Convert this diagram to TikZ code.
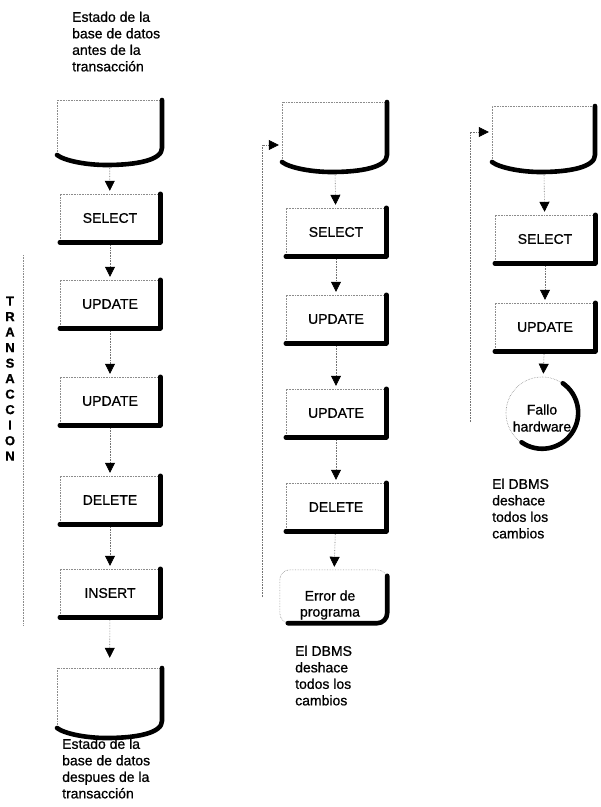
\documentclass[tikz,border=0pt]{standalone}
\usepackage{fontspec}
\setmainfont{Liberation Sans}[FakeBold=0.8]
\usetikzlibrary{arrows.meta,calc}
\tikzset{
  faint/.style={draw=black!45, densely dotted, line width=0.6pt},
  heavy/.style={draw=black, line width=4.6pt, line cap=round, line join=round},
  conn/.style={draw=black!55, densely dotted, line width=0.6pt,
    -{Triangle[length=10pt,width=10pt,color=black]}, shorten >=3pt, shorten <=3pt},
  lbl/.style={font=\fontsize{14}{16.5}\selectfont, inner sep=0pt},
  blk/.style={lbl, align=left, anchor=north west},
  opnode/.style={lbl, minimum width=100pt, minimum height=48pt},
}
\newcommand{\opbox}[4]{%
  \node[opnode] (#1) at (#2,#3) {#4};
  \draw[faint] (#1.south west) -- (#1.north west) -- (#1.north east);
  \draw[heavy] (#1.north east) -- (#1.south east) -- (#1.south west);
}
\newcommand{\dbshape}[5]{%
  \pgfmathsetmacro{\dbX}{(#2+#3)/2}%
  \pgfmathsetmacro{\dbY}{(#4+#5)/2}%
  \pgfmathsetmacro{\dbW}{#3-#2}%
  \pgfmathsetmacro{\dbH}{#5-#4}%
  \node[inner sep=0pt, minimum width=\dbW pt, minimum height=\dbH pt] (#1) at (\dbX,\dbY) {};
  \draw[faint] (#2,#5-10) -- (#2,#4) -- (#3,#4);
  \draw[heavy] (#3,#4) -- (#3,#5-17) .. controls (#3,#5-5) and (#3-25,#5) .. (\dbX-3,#5)
     .. controls (#2+30,#5) and (#2+8,#5-4) .. (#2,#5-10);
}
\begin{document}
\begin{tikzpicture}[x=1pt,y=-1pt]
\useasboundingbox (0,0) rectangle (601,807);

% ---------- column 1 ----------
\node[blk] (topt) at (72,11.5) {Estado de la\\base de datos\\antes de la\\transacción};
\dbshape{db1}{57}{162}{100}{165}
\opbox{s1}{110}{218}{SELECT}
\opbox{u1}{110}{304}{UPDATE}
\opbox{u2}{110}{401}{UPDATE}
\opbox{d1}{110}{500}{DELETE}
\opbox{i1}{110}{593}{INSERT}
\dbshape{db2}{57}{162}{668}{738}
\node[blk] (bott) at (62,738.5) {Estado de la\\base de datos\\despues de la\\transacción};

\draw[conn] (db1) -- (s1);
\draw[conn] (s1) -- (u1);
\draw[conn] (u1) -- (u2);
\draw[conn] (u2) -- (d1);
\draw[conn] (d1) -- (i1);
\draw[conn, shorten >=10pt] (i1) -- (db2);

\coordinate (tr1) at (23,255);
\coordinate (tr2) at (23,625);
\draw[faint] (tr1) -- (tr2);
\node[font=\bfseries\fontsize{13}{15.5}\selectfont, align=center, anchor=north, inner sep=0pt]
  (tlab) at (10,296.5) {T\\R\\A\\N\\S\\A\\C\\C\\I\\O\\N};

% ---------- column 2 ----------
\dbshape{dc1}{282}{387}{102}{172}
\opbox{s2}{336}{232}{SELECT}
\opbox{u3}{336}{319}{UPDATE}
\opbox{u4}{336}{413}{UPDATE}
\opbox{d2}{336}{507}{DELETE}
\node[inner sep=0pt, minimum width=107pt, minimum height=53pt] (err) at (333.5,596.5) {};
\draw[faint, rounded corners=10pt] (err.south west) rectangle (err.north east);
\draw[heavy, rounded corners=10pt] ([yshift=-6pt]err.north east) -- (err.south east) -- ([xshift=8pt]err.south west);
\node[lbl, align=center, font=\fontsize{14}{16}\selectfont] (errt) at (330,605) {Error de\\programa};
\node[blk] (c2t) at (295,645.5) {El DBMS\\deshace\\todos los\\cambios};

\draw[conn] (dc1) -- (s2);
\draw[conn] (s2) -- (u3);
\draw[conn] (u3) -- (u4);
\draw[conn] (u4) -- (d2);
\draw[conn] (d2) -- (err);

\coordinate (l2b) at (262,600);
\coordinate (l2t) at (262,145);
\draw[conn] (l2b) -- (l2t) -- (dc1.west |- l2t);

% ---------- column 3 ----------
\dbshape{dd1}{492}{595}{106}{172}
\opbox{s3}{545}{239}{SELECT}
\opbox{u5}{545}{327}{UPDATE}
\node[circle, inner sep=0pt, minimum size=72pt, faint] (fh) at (542,413) {};
\draw[heavy] (fh.55) arc[start angle=55, end angle=-125, radius=36pt];
\node[lbl, align=center, font=\fontsize{14}{17}\selectfont] (fht) at (542,418) {Fallo\\hardware};
\node[blk] (c3t) at (492,478.5) {El DBMS\\deshace\\todos los\\cambios};

\draw[conn] (dd1) -- (s3);
\draw[conn] (s3) -- (u5);
\draw[conn] (u5) -- (fh);

\coordinate (l3b) at (470,425);
\coordinate (l3t) at (470,132);
\draw[conn] (l3b) -- (l3t) -- (dd1.west |- l3t);
\end{tikzpicture}
\end{document}
